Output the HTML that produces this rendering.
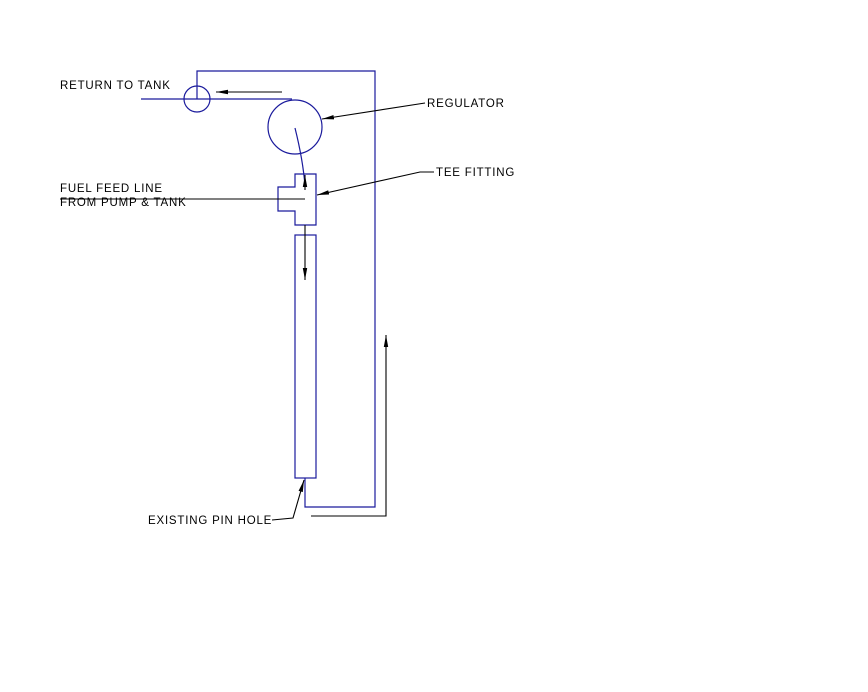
<!DOCTYPE html>
<html><head><style>
html,body{margin:0;padding:0;background:#fff;width:868px;height:692px;overflow:hidden}
svg{display:block}
text{font-family:"Liberation Sans",sans-serif;font-size:11.5px;fill:#000;letter-spacing:0.8px}
</style></head><body>
<svg width="868" height="692" viewBox="0 0 868 692">
<defs>
<marker id="a" markerWidth="12" markerHeight="6" refX="12" refY="3" orient="auto" markerUnits="userSpaceOnUse">
<path d="M0,0.8 L12,3 L0,5.2 Z" fill="#000"/></marker>
</defs>
<g fill="none" stroke="#1a1a9c" stroke-width="1.2">
<polyline points="197,99 197,71 375,71 375,507 305,507 305,478"/>
<circle cx="197" cy="99" r="13"/>
<line x1="141" y1="99" x2="292" y2="99"/>
<circle cx="295" cy="127" r="27"/>
<path d="M295,128 Q303,160 305,186"/>
<polygon points="295,174 316,174 316,225 295,225 295,211 278,211 278,187 295,187"/>
<rect x="295" y="235" width="21" height="243"/>
</g>
<g fill="none" stroke="#000" stroke-width="1.1">
<line x1="282" y1="92" x2="216" y2="92" marker-end="url(#a)"/>
<line x1="305" y1="190" x2="305" y2="175" marker-end="url(#a)"/>
<line x1="60" y1="199" x2="305" y2="199"/>
<line x1="305" y1="225" x2="305" y2="280" marker-end="url(#a)"/>
<polyline points="311,516 386,516 386,335" marker-end="url(#a)"/>
<line x1="425" y1="103" x2="322" y2="119" marker-end="url(#a)"/>
<polyline points="434,172 420,172 317,195" marker-end="url(#a)"/>
<polyline points="272,520 293,518 304,480" marker-end="url(#a)"/>
</g>
<text x="60" y="89">RETURN TO TANK</text>
<text x="427" y="107">REGULATOR</text>
<text x="436" y="176">TEE FITTING</text>
<text x="60" y="192">FUEL FEED LINE</text>
<text x="60" y="206">FROM PUMP &amp; TANK</text>
<text x="148" y="524">EXISTING PIN HOLE</text>
</svg>
</body></html>
